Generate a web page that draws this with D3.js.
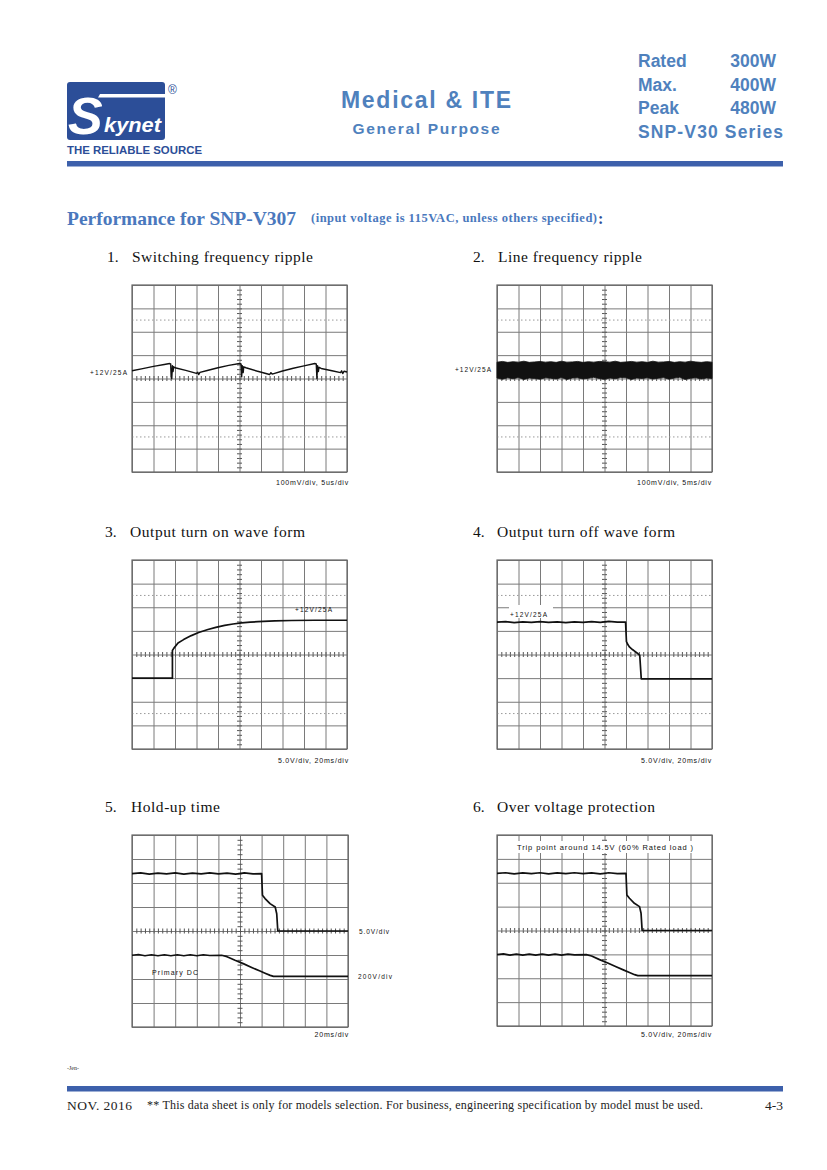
<!DOCTYPE html>
<html><head><meta charset="utf-8">
<script src="https://cdn.jsdelivr.net/npm/d3@7"></script>
<style>
html,body{margin:0;padding:0;background:#fff;}
svg{display:block;}
</style>
</head><body>
<svg id="page" width="827" height="1170"></svg>
<script>
// ---------------- DATA ----------------
const specLabels = ["Rated", "Max.", "Peak"];
const specValues = ["300W", "400W", "480W"];
const seriesName = "SNP-V30 Series";
const sectionNumbers = ["1.", "2.", "3.", "4.", "5.", "6."];
const sectionTitles = ["Switching frequency ripple", "Line frequency ripple", "Output turn on wave form",
  "Output turn off wave form", "Hold-up time", "Over voltage protection"];
const scopeCaptions = ["100mV/div, 5us/div", "100mV/div, 5ms/div", "5.0V/div, 20ms/div",
  "5.0V/div, 20ms/div", "20ms/div", "5.0V/div, 20ms/div"];
// grid: 10 horizontal divisions (0..10), 8 vertical divisions (-4..4)
const xDivs = [0,1,2,3,4,5,6,7,8,9,10];
const yDivs = [-4,-3,-2,-1,0,1,2,3,4];
// 1. switching ripple trace [div, div]
const rippleTrace = [[0,0.33],[0.5,0.42],[1.0,0.52],[1.5,0.60],[1.75,0.64],[1.8,0.62],[1.82,0.1],[1.85,0.0],[1.88,0.55],[1.91,0.3],[1.94,0.5],[2.0,0.46],[2.5,0.35],[3.0,0.22],[3.06,0.27],[3.1,0.17],[3.16,0.26],[3.5,0.34],[4.0,0.46],[4.5,0.56],[5.0,0.64],[5.07,0.62],[5.1,0.07],[5.13,0.55],[5.17,0.25],[5.2,0.5],[5.3,0.46],[5.8,0.32],[6.4,0.17],[6.46,0.25],[6.52,0.19],[7.0,0.32],[7.5,0.44],[8.0,0.54],[8.5,0.64],[8.57,0.62],[8.6,0.0],[8.63,0.55],[8.67,0.3],[8.7,0.48],[8.8,0.43],[9.3,0.33],[9.7,0.25],[9.75,0.33],[9.8,0.21],[9.86,0.31],[10,0.28]];
// 2. line ripple noise band envelopes (every 0.25 div)
const lineRippleUpper = [0.70,0.73,0.69,0.72,0.70,0.74,0.69,0.71,0.73,0.70,0.72,0.69,0.74,0.70,0.71,0.73,0.69,0.72,0.70,0.73,0.72,0.70,0.74,0.69,0.71,0.73,0.70,0.72,0.69,0.74,0.70,0.71,0.73,0.69,0.72,0.70,0.74,0.71,0.69,0.72,0.70];
const lineRippleLower = [0.02,-0.03,0.03,-0.01,0.04,-0.04,0.02,0.00,-0.03,0.03,0.01,-0.02,0.04,-0.04,0.02,0.03,-0.02,0.01,0.05,0.00,-0.03,0.02,-0.01,0.04,0.03,-0.04,0.02,0.00,0.03,-0.02,0.01,0.04,-0.03,0.02,0.05,-0.04,0.01,0.03,-0.02,0.02,0.00];
// 3. turn-on trace
const turnOnTrace = [[0,-1.0],[1.88,-1.0],[1.88,0.17],[1.95,0.27],[2.14,0.49],[2.4,0.63],[2.76,0.80],[3.1,0.93],[3.53,1.06],[3.9,1.15],[4.31,1.23],[4.7,1.29],[5.09,1.34],[5.5,1.37],[5.86,1.39],[6.64,1.42],[7.41,1.44],[8.5,1.45],[10,1.45]];
// 4. turn-off trace
const turnOffTrace = [[0,1.37],[0.4,1.39],[0.8,1.35],[1.2,1.38],[1.6,1.36],[2.0,1.39],[2.4,1.36],[2.8,1.38],[3.2,1.35],[3.6,1.38],[4.0,1.36],[4.4,1.39],[4.8,1.36],[5.2,1.4],[5.6,1.37],[5.98,1.37],[6.02,0.55],[6.1,0.40],[6.17,0.31],[6.3,0.21],[6.4,0.14],[6.56,0.03],[6.64,-0.04],[6.71,-1.03],[10,-1.03]];
// 5./6. hold-up & OVP traces (output and primary DC)
const holdUpOutput = [[0,2.39],[0.4,2.42],[0.8,2.37],[1.2,2.41],[1.6,2.38],[2.0,2.42],[2.4,2.37],[2.8,2.41],[3.2,2.38],[3.6,2.42],[4.0,2.38],[4.4,2.41],[4.8,2.37],[5.2,2.42],[5.6,2.38],[6.0,2.39],[6.04,1.49],[6.16,1.35],[6.39,1.14],[6.63,1.0],[6.7,0.72],[6.75,0.0],[10,0.0]];
const holdUpPrimary = [[0,-1.01],[0.3,-0.98],[0.6,-1.03],[0.9,-0.99],[1.2,-1.03],[1.5,-0.99],[1.8,-1.03],[2.1,-0.99],[2.4,-1.03],[2.7,-0.99],[3.0,-1.03],[3.3,-0.99],[3.6,-1.02],[4.15,-1.01],[4.4,-1.07],[4.77,-1.22],[5.15,-1.36],[5.54,-1.52],[5.9,-1.66],[6.16,-1.76],[6.4,-1.85],[6.55,-1.89],[10,-1.89]];
const ovpOutput = holdUpOutput;
const ovpPrimary = holdUpPrimary;

// ---------------- LAYOUT ----------------
const svg = d3.select("#page");
const BLUE_BAR = "#3d60ab";
const BLUE_TXT = "#4f81bd";
const SANS = "'Liberation Sans', Arial, sans-serif";
const SERIF = "'Liberation Serif', 'Times New Roman', serif";

// Logo
const defs = svg.append("defs");
defs.append("clipPath").attr("id","logoClip").append("rect").attr("x",67).attr("y",82).attr("width",98).attr("height",58).attr("rx",3);
const logo = svg.append("g");
logo.append("rect").attr("x",67).attr("y",82).attr("width",98).attr("height",58).attr("rx",3).attr("fill","#2c4e98");
const logoIn = logo.append("g").attr("clip-path","url(#logoClip)");
logoIn.append("path").attr("d","M100,94 L165,94 L165,97.5 L98,97.5 Z").attr("fill","#fff");
logoIn.append("text").attr("x",68).attr("y",134).attr("font-family",SANS).attr("font-weight","bold").attr("font-style","italic")
  .attr("font-size",52).attr("fill","#fff").text("S");
logoIn.append("text").attr("x",104).attr("y",132).attr("font-family",SANS).attr("font-weight","bold").attr("font-style","italic")
  .attr("font-size",21).attr("fill","#fff").attr("textLength",57).attr("lengthAdjust","spacingAndGlyphs").text("kynet");
logo.append("text").attr("x",168).attr("y",94).attr("font-family",SANS).attr("font-size",12).attr("fill","#2c4e98").text("®");
logo.append("text").attr("x",67).attr("y",154).attr("font-family",SANS).attr("font-weight","bold").attr("font-size",10.5)
  .attr("fill","#2c4e98").attr("textLength",135).attr("lengthAdjust","spacingAndGlyphs").text("THE RELIABLE SOURCE");

// Center header
svg.append("text").attr("x",426).attr("y",108).attr("text-anchor","middle").attr("font-family",SANS).attr("font-weight","bold")
  .attr("font-size",23).attr("fill",BLUE_TXT).attr("textLength",170).text("Medical & ITE");
svg.append("text").attr("x",426).attr("y",134).attr("text-anchor","middle").attr("font-family",SANS).attr("font-weight","bold")
  .attr("font-size",15.5).attr("fill",BLUE_TXT).attr("textLength",147).text("General Purpose");

// Right specs
specLabels.forEach((l,i)=>{
  svg.append("text").attr("x",638).attr("y",67+i*23.5).attr("font-family",SANS).attr("font-weight","bold").attr("font-size",17.5).attr("fill",BLUE_TXT).text(l);
  svg.append("text").attr("x",776).attr("y",67+i*23.5).attr("text-anchor","end").attr("font-family",SANS).attr("font-weight","bold").attr("font-size",17.5).attr("fill",BLUE_TXT).text(specValues[i]);
});
svg.append("text").attr("x",638).attr("y",137.5).attr("font-family",SANS).attr("font-weight","bold").attr("font-size",17.5)
  .attr("fill",BLUE_TXT).attr("textLength",145).text(seriesName);

// bars
svg.append("rect").attr("x",67).attr("y",161).attr("width",716).attr("height",5.5).attr("fill",BLUE_BAR);
svg.append("rect").attr("x",67).attr("y",1086).attr("width",716).attr("height",5.5).attr("fill",BLUE_BAR);

// Title
svg.append("text").attr("x",67).attr("y",225).attr("font-family",SERIF).attr("font-weight","bold").attr("font-size",19.5)
  .attr("fill","#4a78bd").attr("textLength",229).text("Performance for SNP-V307");
svg.append("text").attr("x",311).attr("y",222).attr("font-family",SERIF).attr("font-weight","bold").attr("font-size",12.5)
  .attr("fill","#4a78bd").attr("textLength",286).text("(input voltage is 115VAC, unless others specified)");
svg.append("text").attr("x",598).attr("y",224).attr("font-family",SERIF).attr("font-weight","bold").attr("font-size",16)
  .attr("fill","#2c4e98").text(":");

// Section headings
const headPos = [[107,132,262],[473,498,262],[105,130,537],[473,497,537],[105,131,812],[473,497,812]];
const headLen = [181,144,175,178,89,158];
headPos.forEach((p,i)=>{
  svg.append("text").attr("x",p[0]).attr("y",p[2]).attr("font-family",SERIF).attr("font-size",15.5).attr("fill","#111").text(sectionNumbers[i]);
  svg.append("text").attr("x",p[1]).attr("y",p[2]).attr("font-family",SERIF).attr("font-size",15.5).attr("fill","#111")
    .attr("textLength",headLen[i]).text(sectionTitles[i]);
});

// ---------------- SCOPES ----------------
function scope(x0, y0, w, h, opts) {
  const g = svg.append("g");
  const x = d3.scaleLinear().domain([0,10]).range([x0, x0+w]);
  const y = d3.scaleLinear().domain([-4,4]).range([y0+h, y0]);
  // grid via axes
  const gx = g.append("g").attr("transform",`translate(0,${y0+h})`)
    .call(d3.axisBottom(x).tickValues(xDivs).tickSize(-h).tickFormat(""));
  const gy = g.append("g").attr("transform",`translate(${x0},0)`)
    .call(d3.axisLeft(y).tickValues(yDivs).tickSize(-w).tickFormat(""));
  [gx,gy].forEach(a=>{ a.select(".domain").remove(); a.selectAll("line").attr("stroke","#7a7a7a").attr("stroke-width",1); });
  if (opts.dotted) {
    [-2.5,2.5].forEach(v=>{
      g.append("line").attr("x1",x0).attr("x2",x0+w).attr("y1",y(v)).attr("y2",y(v))
        .attr("stroke","#999").attr("stroke-width",1).attr("stroke-dasharray","1.5,2.5");
    });
  }
  // border
  g.append("rect").attr("x",x0).attr("y",y0).attr("width",w).attr("height",h).attr("fill","none").attr("stroke","#666").attr("stroke-width",1.2);
  // center cross minor ticks
  const minorX = d3.range(1,50).map(i=>i*0.2);
  const minorY = d3.range(1,40).map(i=>-4+i*0.2);
  const tickStyle = a=>{a.select(".domain").remove(); a.selectAll("line").attr("stroke","#555");};
  g.append("g").attr("transform",`translate(0,${y(0)})`)
    .call(d3.axisBottom(x).tickValues(minorX).tickSize(2.5).tickFormat("")).call(tickStyle);
  g.append("g").attr("transform",`translate(0,${y(0)})`)
    .call(d3.axisTop(x).tickValues(minorX).tickSize(2.5).tickFormat("")).call(tickStyle);
  g.append("g").attr("transform",`translate(${x(5)},0)`)
    .call(d3.axisLeft(y).tickValues(minorY).tickSize(2.5).tickFormat("")).call(tickStyle);
  g.append("g").attr("transform",`translate(${x(5)},0)`)
    .call(d3.axisRight(y).tickValues(minorY).tickSize(2.5).tickFormat("")).call(tickStyle);
  // label backgrounds
  (opts.labels||[]).forEach(l=>{
    if (l.bg) g.append("rect").attr("x",l.bg[0]).attr("y",l.bg[1]).attr("width",l.bg[2]).attr("height",l.bg[3]).attr("fill","#fff");
  });
  // traces
  const line = d3.line().x(d=>x(d[0])).y(d=>y(d[1]));
  (opts.traces||[]).forEach(t=>{
    g.append("path").attr("d",line(t.data)).attr("fill","none").attr("stroke","#111").attr("stroke-width",t.sw||1.7).attr("stroke-linejoin","round");
  });
  if (opts.band) {
    const xs = d3.range(opts.band.upper.length).map(i=>i*10/(opts.band.upper.length-1));
    const area = d3.area().x((d,i)=>x(xs[i])).y0((d,i)=>y(opts.band.lower[i])).y1(d=>y(d));
    g.append("path").attr("d",area(opts.band.upper)).attr("fill","#111").attr("stroke","#111").attr("stroke-width",0.8);
  }
  // labels
  (opts.labels||[]).forEach(l=>{
    const t = g.append("text").attr("x",l.x).attr("y",l.y).attr("text-anchor",l.anchor||"start").attr("font-family",SANS)
      .attr("font-size",l.size||7).attr("fill","#111").text(l.t);
    if (l.len) t.attr("textLength",l.len); else t.attr("letter-spacing",0.5);
  });
  // caption
  g.append("text").attr("x",opts.capX).attr("y",opts.capY).attr("text-anchor","end").attr("font-family",SANS)
    .attr("font-size",7).attr("letter-spacing",0.8).attr("fill","#111").text(opts.caption);
}

scope(132,285,215,187,{dotted:true, traces:[{data:rippleTrace, sw:1.4}],
  labels:[{t:"+12V/25A", x:90, y:375, size:6.5, len:37}],
  caption:scopeCaptions[0], capX:349, capY:485});
scope(497,285,215,187,{dotted:true, band:{upper:lineRippleUpper, lower:lineRippleLower},
  labels:[{t:"+12V/25A", x:455, y:372, size:6.5, len:36}],
  caption:scopeCaptions[1], capX:712, capY:485});
scope(132,560,215,189,{dotted:true, traces:[{data:turnOnTrace}],
  labels:[{t:"+12V/25A", x:295, y:612, size:6.5, len:37}],
  caption:scopeCaptions[2], capX:349, capY:763});
scope(497,560,215,189,{dotted:true, traces:[{data:turnOffTrace}],
  labels:[{t:"+12V/25A", x:510, y:617, size:6.5, len:37, bg:[509,605,44,13]}],
  caption:scopeCaptions[3], capX:712, capY:763});
scope(132,835,216,192,{dotted:false, traces:[{data:holdUpOutput},{data:holdUpPrimary}],
  labels:[{t:"5.0V/div", x:359, y:934, size:6.5, len:30},{t:"200V/div", x:358, y:979, size:6.5, len:34},
          {t:"Primary  DC", x:152, y:975, size:7, len:46}],
  caption:scopeCaptions[4], capX:349, capY:1037});
scope(497,835,215,191,{dotted:false, traces:[{data:ovpOutput},{data:ovpPrimary}],
  labels:[{t:"Trip point around  14.5V   (60%  Rated load )", x:517, y:850, size:7.5, len:176, bg:[514,841,182,12]}],
  caption:scopeCaptions[5], capX:712, capY:1037});

// Footer
svg.append("text").attr("x",67).attr("y",1070).attr("font-family",SERIF).attr("font-size",6).attr("fill","#333").text("-Jen-");
svg.append("text").attr("x",67).attr("y",1110).attr("font-family",SERIF).attr("font-size",13.5).attr("fill","#222").attr("textLength",65).text("NOV. 2016");
svg.append("text").attr("x",147).attr("y",1109).attr("font-family",SERIF).attr("font-size",12).attr("fill","#222")
  .attr("textLength",556).text("** This data sheet is only for models selection.  For business, engineering specification by model must be used.");
svg.append("text").attr("x",783).attr("y",1110).attr("text-anchor","end").attr("font-family",SERIF).attr("font-size",13.5).attr("fill","#222").text("4-3");
</script>
</body></html>
